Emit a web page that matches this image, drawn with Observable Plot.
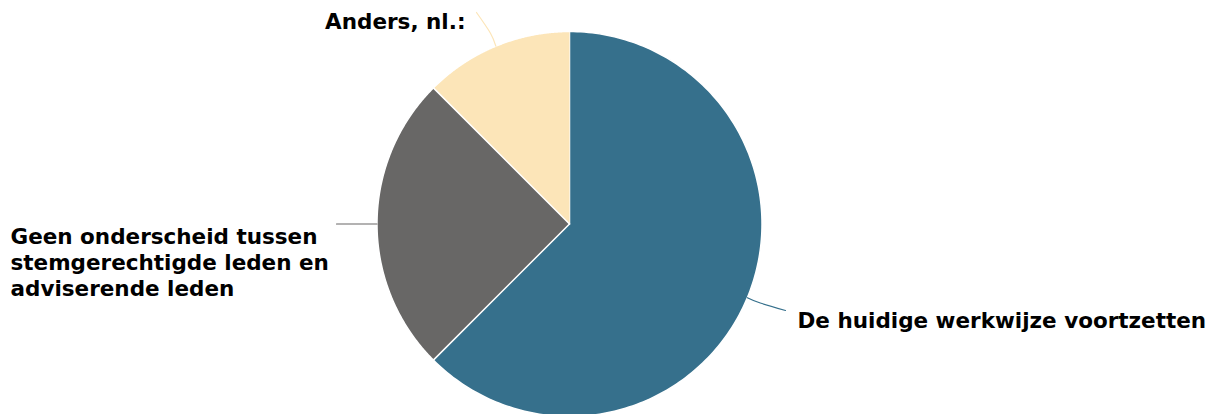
<!DOCTYPE html>
<html><head><meta charset="utf-8">
<script src="https://cdn.jsdelivr.net/npm/d3@7"></script>
<script src="https://cdn.jsdelivr.net/npm/@observablehq/plot@0.6"></script>
<style>body{margin:0;background:#fff}</style>
</head><body><div id="chart"></div>
<script>
const categories = ["De huidige werkwijze voortzetten", "Geen onderscheid tussen stemgerechtigde leden en adviserende leden", "Anders, nl.:"];
const values = [5, 2, 1];
const colors = ["#36708c", "#686766", "#fce5b8"];
const labelLines = [["De huidige werkwijze voortzetten"], ["Geen onderscheid tussen", "stemgerechtigde leden en", "adviserende leden"], ["Anders, nl.:"]];

const W = 1217, H = 414, cx = 569, cy = 223.5, R = 192.5;
const pie = d3.pie().sort(null).value(d => d.value)(categories.map((c, i) => ({c, value: values[i], i})));

const pt = (a, r) => [cx + r * Math.sin(a), cy - r * Math.cos(a)];
const slicePts = [];
pie.forEach(p => {
  slicePts.push({i: p.data.i, x: cx, y: cy});
  const n = 200;
  for (let k = 0; k <= n; k++) {
    const a = p.startAngle + (p.endAngle - p.startAngle) * k / n;
    const [x, y] = pt(a, R);
    slicePts.push({i: p.data.i, x, y});
  }
});

const labelPos = [
  {lx: 797, ly: 327, anchor: "start", end: [785, 310]},
  {lx: 10, ly: 243.5, anchor: "start", end: [336, 223.5]},
  {lx: 465, ly: 28, anchor: "end", end: [476, 12]}
];
const leaderPts = [];
pie.forEach(p => {
  const i = p.data.i;
  const mid = (p.startAngle + p.endAngle) / 2;
  const [x0, y0] = pt(mid, R);
  const [x1, y1] = pt(mid, R + 14);
  const [x2, y2] = labelPos[i].end;
  leaderPts.push({i, x: x0, y: y0}, {i, x: x1, y: y1}, {i, x: x2, y: y2});
});
const textRows = [];
labelLines.forEach((lines, i) => lines.forEach((t, k) => textRows.push({i, t, x: labelPos[i].lx, y: labelPos[i].ly + k * 26, anchor: labelPos[i].anchor})));

const chart = Plot.plot({
  width: W, height: H, margin: 0,
  x: {domain: [0, W], range: [0, W], axis: null},
  y: {domain: [0, H], range: [0, H], axis: null},
  style: {fontFamily: "DejaVu Sans"},
  marks: [
    Plot.line(slicePts, {x: "x", y: "y", z: "i", fill: d => colors[d.i], stroke: "white", strokeWidth: 1.5, strokeLinejoin: "round"}),
    Plot.line(leaderPts, {x: "x", y: "y", z: "i", stroke: d => colors[d.i], strokeWidth: 1.2, curve: "natural"}),
    Plot.text(textRows.filter(d => d.anchor === "start"), {x: "x", y: "y", text: "t", textAnchor: "start", lineAnchor: "bottom", fontSize: 21.5, fontWeight: "bold", fill: "black"}),
    Plot.text(textRows.filter(d => d.anchor === "end"), {x: "x", y: "y", text: "t", textAnchor: "end", lineAnchor: "bottom", fontSize: 21.5, fontWeight: "bold", fill: "black"})
  ]
});
document.getElementById("chart").append(chart);
</script></body></html>
